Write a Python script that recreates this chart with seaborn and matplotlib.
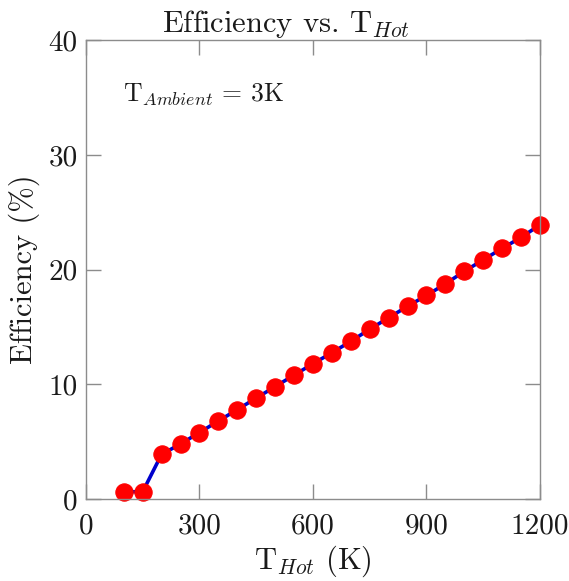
import numpy as np
import pandas as pd
import matplotlib
matplotlib.use("Agg")
import matplotlib.pyplot as plt
import seaborn as sns

# --- Data ---
t_hot = [100, 150, 200, 250, 300, 350, 400, 450, 500, 550, 600, 650,
         700, 750, 800, 850, 900, 950, 1000, 1050, 1100, 1150, 1200]
efficiency = [0.64, 0.64, 3.9, 4.8, 5.8, 6.8, 7.8, 8.8, 9.8, 10.8, 11.8, 12.75,
              13.75, 14.8, 15.8, 16.8, 17.75, 18.75, 19.85, 20.85, 21.85, 22.8, 23.9]
x_ticks = [0, 300, 600, 900, 1200]
y_ticks = [0, 10, 20, 30, 40]

df = pd.DataFrame({"t_hot": t_hot, "efficiency": efficiency})

# --- Style ---
sns.set_style("white")
plt.rcParams['font.family'] = 'serif'
plt.rcParams['font.serif'] = ['cmr10', 'DejaVu Serif']
plt.rcParams['mathtext.fontset'] = 'cm'
plt.rcParams['axes.formatter.use_mathtext'] = True
plt.rcParams['axes.unicode_minus'] = False

GRAY = '#8c8c8c'
TEXT = '#1a1a1a'

fig = plt.figure(figsize=(5.69, 5.81), dpi=100)
ax = fig.add_axes([0.151, 0.141, 0.798, 0.790])

sns.lineplot(data=df, x="t_hot", y="efficiency", ax=ax, color='#0000cc',
             linewidth=2.6, marker='o', markersize=12.5,
             markerfacecolor='red', markeredgecolor='red', clip_on=False)

ax.set_xlim(0, 1200)
ax.set_ylim(0, 40)
ax.set_xticks(x_ticks)
ax.set_yticks(y_ticks)
ax.set_xticklabels([str(v) for v in x_ticks])
ax.set_yticklabels([str(v) for v in y_ticks])

for side in ['left', 'right', 'top', 'bottom']:
    ax.spines[side].set_visible(True)
    ax.spines[side].set_color(GRAY)
    ax.spines[side].set_linewidth(1.0)

ax.tick_params(direction='in', length=10.5, width=1.0, color=GRAY,
               labelsize=21, labelcolor=TEXT, top=True, right=True,
               bottom=True, left=True)
ax.tick_params(axis='x', pad=10)
ax.tick_params(axis='y', pad=6)

ax.set_xlabel(r"T$_{Hot}$ (K)", fontsize=22, color=TEXT, labelpad=3)
ax.set_ylabel("Efficiency (%)", fontsize=22, color=TEXT, labelpad=6)
ax.set_title(r"Efficiency vs. T$_{Hot}$", fontsize=22, color=TEXT, x=0.44, pad=6)

ax.text(0.081, 0.88, r"T$_{Ambient}$ = 3K", transform=ax.transAxes,
        fontsize=18.5, color=TEXT, va='center', ha='left')

fig.savefig("out.png", dpi=100)
